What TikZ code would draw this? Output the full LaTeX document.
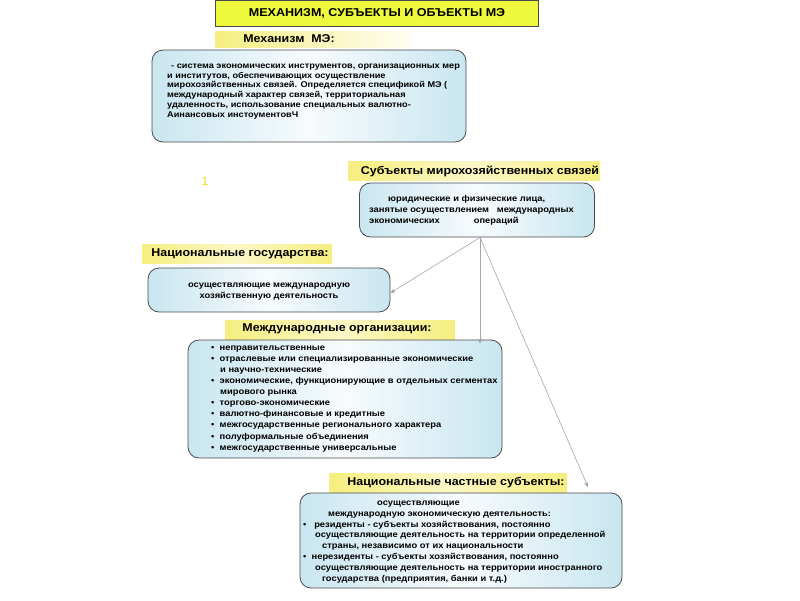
\documentclass[tikz,border=0pt]{standalone}
\usepackage{fontspec}
\setmainfont[FakeStretch=1.1]{Liberation Sans}
\usetikzlibrary{arrows.meta}
\definecolor{boxblue}{HTML}{C9E6F0}
\definecolor{bandyellow}{HTML}{F6EE80}
\definecolor{titleyellow}{HTML}{EEF83C}
\definecolor{edgegrey}{HTML}{4A4A4A}
\newcommand\bodyfont{\bfseries\fontsize{8.5}{11}\selectfont}
\newcommand\headfont{\bfseries\fontsize{11.3}{13}\selectfont}

\begin{document}
\begin{tikzpicture}[x=1pt, y=-1pt,
    infobox/.style={draw=edgegrey, line width=0.8pt, rounded corners=11pt,
      left color=boxblue, right color=boxblue, middle color=white!85!boxblue,
      inner sep=0pt},
    band/.style={left color=bandyellow, right color=bandyellow,
      middle color=bandyellow!45!white, inner sep=0pt},
    bandtext/.style={font=\headfont, inner sep=0pt},
    bodytext/.style={font=\bodyfont, align=left, inner sep=0pt},
    link/.style={draw=gray!70, line width=0.6pt,
      -{Stealth[length=5pt, width=4pt, fill=black!85]}}]
     \useasboundingbox (0, 0) rectangle (800, 600);

     % title
     \node [draw=edgegrey, line width=0.8pt, fill=titleyellow, minimum width=323,
       minimum height=26, inner sep=0pt] (title) at (377, 13)
       {\bfseries\fontsize{11.4}{13}\selectfont МЕХАНИЗМ, СУБЪЕКТЫ И ОБЪЕКТЫ МЭ};

     % mechanism
     \node [left color=bandyellow, right color=white!90!bandyellow, inner sep=0pt,
       minimum width=195, minimum height=16] (mechband) at (313, 39.5) {};
     \node [bandtext] (mechhead) at (289, 39) {Механизм\ \ МЭ:};
     \node [infobox, minimum width=314, minimum height=92] (mech) at (309, 96) {};
     \node [bodytext, anchor=north west, font=\bfseries\fontsize{8.35}{9.8}\selectfont]
       (mechtext) at (167, 63.5)
       {\hspace{4pt}- система экономических инструментов, организационных мер\\
        и институтов, обеспечивающих осуществление\\
        мирохозяйственных связей. Определяется спецификой МЭ (\\
        международный характер связей, территориальная\\
        удаленность, использование специальных валютно-\\
        Аинансовых инстоументовЧ};

     \node [text=titleyellow!80!orange, font=\fontsize{12}{14}\selectfont] (num) at (205, 181) {1};

     % subjects
     \node [band, minimum width=252, minimum height=19] (subjband) at (474, 171) {};
     \node [bandtext] (subjhead) at (480, 171) {Субъекты мирохозяйственных связей};
     \node [infobox, minimum width=235, minimum height=54] (subj) at (477, 210) {};
     \node [bodytext, anchor=north west] (subjtext) at (369, 195.5)
       {\hspace{19pt}юридические и физические лица,\\
        занятые осуществлением\ \ \ международных\\
        экономических\hspace{34pt}операций};

     % national states
     \node [band, minimum width=189, minimum height=19] (stateband) at (237, 254) {};
     \node [bandtext] (statehead) at (240, 254) {Национальные государства:};
     \node [infobox, minimum width=242, minimum height=44] (state) at (269, 290) {};
     \node [bodytext, align=center] (statetext) at (269, 292)
       {осуществляющие международную\\ хозяйственную деятельность};

     % international organisations
     \node [band, minimum width=230, minimum height=20] (intlband) at (340, 330) {};
     \node [bandtext] (intlhead) at (337, 329) {Международные организации:};
     \node [infobox, minimum width=314, minimum height=118] (intl) at (345, 399) {};
     \node [bodytext, anchor=north west, font=\bfseries\fontsize{8.5}{11.1}\selectfont]
       (intltext) at (211, 345.5)
       {\textbullet\ \ неправительственные\\
        \textbullet\ \ отраслевые или специализированные экономические\\
        \hspace{9pt}и научно-технические\\
        \textbullet\ \ экономические, функционирующие в отдельных сегментах\\
        \hspace{9pt}мирового рынка\\
        \textbullet\ \ торгово-экономические\\
        \textbullet\ \ валютно-финансовые и кредитные\\
        \textbullet\ \ межгосударственные регионального характера\\
        \textbullet\ \ полуформальные объединения\\
        \textbullet\ \ межгосударственные универсальные};

     % national private subjects
     \node [band, minimum width=237, minimum height=19] (privband) at (448, 483) {};
     \node [bandtext] (privhead) at (456, 483) {Национальные частные субъекты:};
     \node [infobox, minimum width=322, minimum height=95] (priv) at (461, 540.5) {};
     \node [bodytext, anchor=north west, font=\bfseries\fontsize{8.5}{10.9}\selectfont]
       (privtext) at (303, 500.5)
       {\hspace{74pt}осуществляющие\\
        \hspace{25pt}международную экономическую деятельность:\\
        \textbullet\ \ \ резиденты - субъекты хозяйствования, постоянно\\
        \hspace{12pt}осуществляющие деятельность на территории определенной\\
        \hspace{19pt}страны, независимо от их национальности\\
        \textbullet\ \ нерезиденты - субъекты хозяйствования, постоянно\\
        \hspace{12pt}осуществляющие деятельность на территории иностранного\\
        \hspace{19pt}государства (предприятия, банки и т.д.)};

     \coordinate (privtip) at (588, 487);

     \draw [link] ([xshift=3pt]subj.south) -- ([yshift=-3pt]state.east);
     \draw [link] ([xshift=3pt]subj.south) -- ([xshift=3pt, yshift=-4pt]subj.south |- intl.north);
     \draw [link] ([xshift=3pt]subj.south) -- (privtip);
\end{tikzpicture}
\end{document}
